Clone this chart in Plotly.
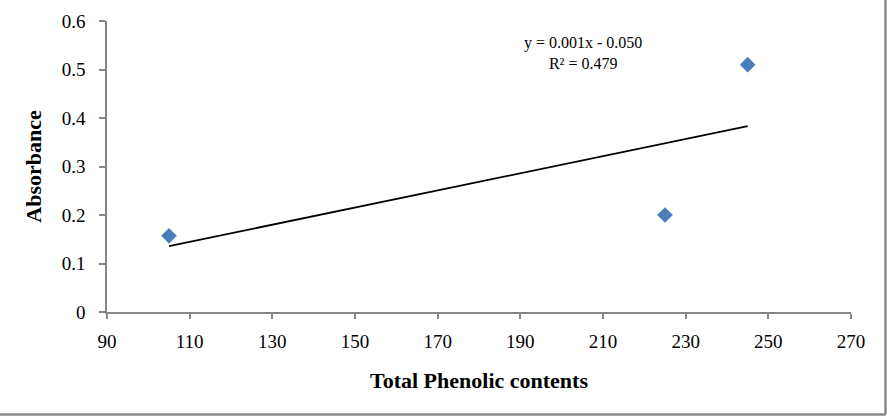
import numpy as np
import plotly.graph_objects as go

# Data
phenolic = [105, 225, 245]
absorbance = [0.157, 0.200, 0.510]
eq_text = "y = 0.001x - 0.050"
r2_text = "R² = 0.479"
x_ticks = [90, 110, 130, 150, 170, 190, 210, 230, 250, 270]
y_ticks = [0, 0.1, 0.2, 0.3, 0.4, 0.5, 0.6]

# Linear trendline from the data
slope, intercept = np.polyfit(phenolic, absorbance, 1)
tx = np.array([min(phenolic), max(phenolic)])
ty = slope * tx + intercept

FONT = "Liberation Serif, Times New Roman, serif"
AX = "#868686"

fig = go.Figure()
fig.add_trace(go.Scatter(
    x=tx, y=ty, mode="lines",
    line=dict(color="black", width=1.8),
    showlegend=False, hoverinfo="skip"))
fig.add_trace(go.Scatter(
    x=phenolic, y=absorbance, mode="markers",
    marker=dict(symbol="diamond", size=12, color="#4A7EBB",
                line=dict(width=0)),
    showlegend=False))

fig.add_annotation(
    x=205.2, y=0.5333, xref="x", yref="y",
    text=eq_text + "<br>" + r2_text, showarrow=False, align="center",
    font=dict(family=FONT, size=16, color="black"))

# chart frame (right and bottom edges)
fig.add_shape(type="line", xref="paper", yref="paper",
              x0=1.0464, x1=1.0464, y0=-0.352, y1=1.08,
              line=dict(color="#888888", width=2.5))
fig.add_shape(type="line", xref="paper", yref="paper",
              x0=-0.16, x1=1.0464, y0=-0.352, y1=-0.352,
              line=dict(color="#888888", width=2.5))

fig.update_layout(
    width=887, height=418,
    margin=dict(l=107, r=36, t=21, b=106),
    paper_bgcolor="white", plot_bgcolor="white",
    font=dict(family=FONT, color="black"),
    xaxis=dict(
        range=[90, 270], tickvals=x_ticks, ticktext=[str(v) for v in x_ticks],
        showgrid=False, zeroline=False, showline=True,
        linecolor=AX, linewidth=1.5, ticks="outside", tickcolor=AX,
        ticklen=5, tickwidth=1.5, tickfont=dict(family=FONT, size=19),
        ticklabelstandoff=6,
        title=dict(text="<b>Total Phenolic contents</b>", standoff=22,
                   font=dict(family=FONT, size=22))),
    yaxis=dict(
        range=[0, 0.6], tickvals=y_ticks,
        ticktext=["0" if v == 0 else f"{v:.1f}" for v in y_ticks],
        showgrid=False, zeroline=False, showline=True,
        linecolor=AX, linewidth=1.5, ticks="outside", tickcolor=AX,
        ticklen=6, tickwidth=1.5, tickfont=dict(family=FONT, size=19),
        ticklabelstandoff=10,
        title=dict(text="<b>Absorbance</b>", standoff=14,
                   font=dict(family=FONT, size=22))),
)

fig.write_html("out.html")
